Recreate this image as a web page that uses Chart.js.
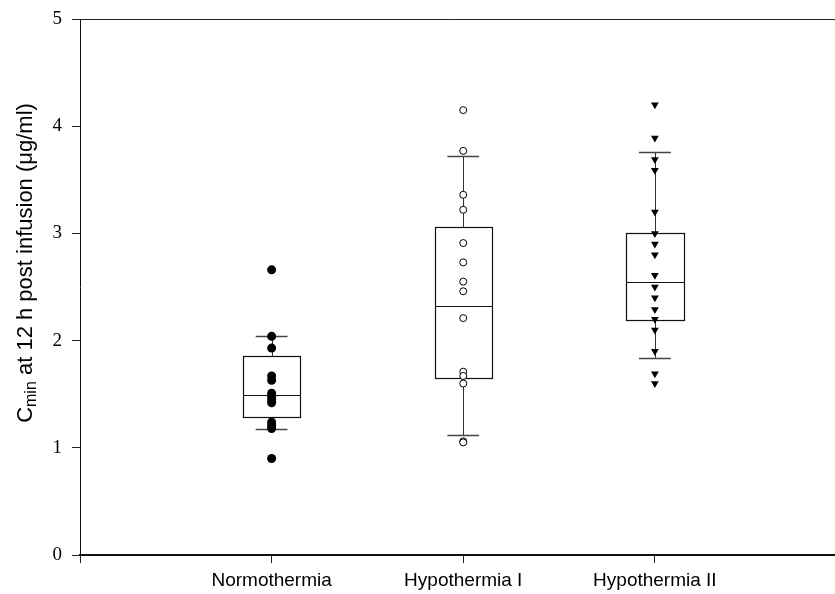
<!DOCTYPE html>
<html>
<head>
<meta charset="utf-8">
<script src="https://cdn.jsdelivr.net/npm/chart.js@4"></script>
<style>
  html, body { margin: 0; padding: 0; background: #fff; }
  canvas { display: block; }
</style>
</head>
<body>
<canvas id="chart" width="835" height="594"></canvas>
<script>
// groups on the x axis (positions 1, 2, 3)
const groups = ['Normothermia', 'Hypothermia I', 'Hypothermia II'];

// individual Cmin values (µg/ml)
const normothermia = [2.66, 2.04, 1.93, 1.67, 1.63, 1.51, 1.48, 1.45, 1.42, 1.24, 1.21, 1.18, 0.90];
const hypothermiaI = [4.15, 3.77, 3.36, 3.22, 2.91, 2.73, 2.55, 2.46, 2.21, 1.71, 1.67, 1.60, 1.06, 1.05];
const hypothermiaII = [4.20, 3.89, 3.69, 3.59, 3.20, 3.00, 2.90, 2.80, 2.61, 2.50, 2.40, 2.29, 2.20, 2.10, 1.90, 1.69, 1.60];

// box summaries per group
const whiskerLow = [1.18, 1.12, 1.84];
const quart1 = [1.285, 1.65, 2.19];
const medians = [1.496, 2.32, 2.545];
const quart3 = [1.86, 3.06, 3.00];
const whiskerHigh = [2.04, 3.72, 3.76];

const yTicks = [0, 1, 2, 3, 4, 5];

const toPoints = (vals, pos) => vals.map(v => ({ x: pos, y: v }));

// boxes + whiskers drawn under the points
const boxPlugin = {
  id: 'boxes',
  beforeDatasetsDraw(chart) {
    const { ctx, scales: { x, y } } = chart;
    ctx.save();
    groups.forEach((g, i) => {
      const pos = i + 1;
      const cx = Math.round(x.getPixelForValue(pos)) + 0.5;
      const left = Math.round(x.getPixelForValue(pos - 0.15)) + 0.5;
      const right = Math.round(x.getPixelForValue(pos + 0.15)) + 0.5;
      const capL = x.getPixelForValue(pos - 0.083);
      const capR = x.getPixelForValue(pos + 0.083);
      const py = v => Math.round(y.getPixelForValue(v)) + 0.5;

      // whiskers
      ctx.strokeStyle = '#333';
      ctx.lineWidth = 1;
      ctx.beginPath();
      ctx.moveTo(cx, py(whiskerHigh[i]));
      ctx.lineTo(cx, py(quart3[i]));
      ctx.moveTo(cx, py(quart1[i]));
      ctx.lineTo(cx, py(whiskerLow[i]));
      ctx.stroke();

      // caps
      ctx.strokeStyle = '#444';
      ctx.lineWidth = 1.5;
      ctx.beginPath();
      ctx.moveTo(capL, py(whiskerHigh[i]));
      ctx.lineTo(capR, py(whiskerHigh[i]));
      ctx.moveTo(capL, py(whiskerLow[i]));
      ctx.lineTo(capR, py(whiskerLow[i]));
      ctx.stroke();

      // box and median
      ctx.strokeStyle = '#111';
      ctx.lineWidth = 1.2;
      ctx.strokeRect(left, py(quart3[i]), right - left, py(quart1[i]) - py(quart3[i]));
      ctx.beginPath();
      ctx.moveTo(left, py(medians[i]));
      ctx.lineTo(right, py(medians[i]));
      ctx.stroke();
    });
    ctx.restore();
  }
};

// top frame line + rotated y title with subscript
const framePlugin = {
  id: 'frame',
  afterDraw(chart) {
    const { ctx, chartArea } = chart;
    ctx.save();
    ctx.strokeStyle = '#222';
    ctx.lineWidth = 1;
    ctx.beginPath();
    ctx.moveTo(chartArea.left - 8, Math.round(chartArea.top) + 0.5);
    ctx.lineTo(chart.width, Math.round(chartArea.top) + 0.5);
    ctx.stroke();

    const main = '22px "Liberation Sans", Arial, sans-serif';
    const sub = '16px "Liberation Sans", Arial, sans-serif';
    const parts = [['C', main, 0], ['min', sub, 4], [' at 12 h post infusion (\u03BCg/ml)', main, 0]];
    let total = 0;
    parts.forEach(p => { ctx.font = p[1]; total += ctx.measureText(p[0]).width; });
    ctx.translate(32, 263);
    ctx.rotate(-Math.PI / 2);
    ctx.fillStyle = '#000';
    ctx.textBaseline = 'alphabetic';
    ctx.textAlign = 'left';
    let cur = -total / 2;
    parts.forEach(p => {
      ctx.font = p[1];
      ctx.fillText(p[0], cur, p[2]);
      cur += ctx.measureText(p[0]).width;
    });
    ctx.restore();
  }
};

new Chart(document.getElementById('chart'), {
  type: 'scatter',
  data: {
    datasets: [
      {
        label: groups[0],
        data: toPoints(normothermia, 1),
        pointStyle: 'circle',
        pointRadius: 4.5,
        backgroundColor: '#000',
        borderColor: '#000',
        borderWidth: 0
      },
      {
        label: groups[1],
        data: toPoints(hypothermiaI, 2),
        pointStyle: 'circle',
        pointRadius: 3.5,
        backgroundColor: '#fff',
        borderColor: '#000',
        borderWidth: 1
      },
      {
        label: groups[2],
        data: toPoints(hypothermiaII, 3),
        pointStyle: 'triangle',
        pointRotation: 180,
        pointRadius: 4.5,
        backgroundColor: '#000',
        borderColor: '#000',
        borderWidth: 0
      }
    ]
  },
  options: {
    responsive: false,
    animation: false,
    devicePixelRatio: 1,
    layout: { autoPadding: false, padding: { top: 19, right: 0, left: 0, bottom: 0 } },
    plugins: {
      legend: { display: false },
      tooltip: { enabled: false }
    },
    scales: {
      x: {
        type: 'linear',
        min: 0,
        max: 3.94,
        afterBuildTicks: scale => { scale.ticks = [0, 1, 2, 3].map(v => ({ value: v })); },
        afterFit: scale => { scale.height = 39; },
        ticks: {
          callback: v => groups[v - 1] || '',
          color: '#000',
          font: { family: '"Liberation Sans", Arial, sans-serif', size: 19 },
          padding: 6,
          maxRotation: 0,
          autoSkip: false
        },
        grid: { drawOnChartArea: false, tickLength: 8, color: '#222', tickWidth: 1 },
        border: { color: '#111', width: 2 }
      },
      y: {
        min: 0,
        max: 5,
        afterBuildTicks: scale => { scale.ticks = yTicks.map(v => ({ value: v })); },
        afterFit: scale => {
          scale.width = 80;
          scale.paddingTop = 0;
          scale.paddingBottom = 0;
        },
        ticks: {
          color: '#000',
          font: { family: '"Liberation Serif", "Times New Roman", serif', size: 19 },
          padding: 10
        },
        grid: { drawOnChartArea: false, tickLength: 8, color: '#222', tickWidth: 1 },
        border: { color: '#111', width: 1 }
      }
    }
  },
  plugins: [boxPlugin, framePlugin]
});
</script>
</body>
</html>
